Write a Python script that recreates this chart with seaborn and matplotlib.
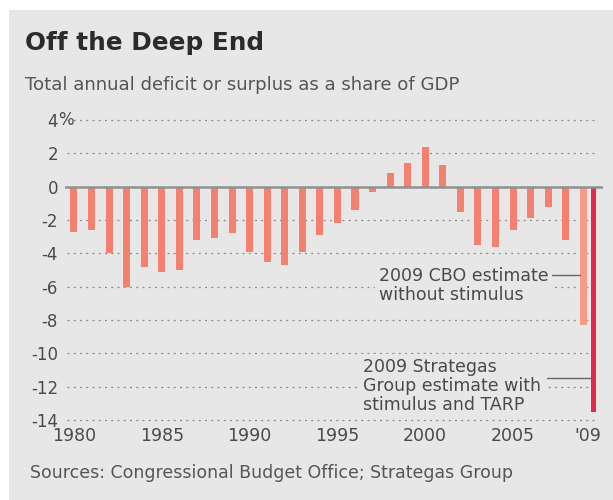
import matplotlib
matplotlib.use("Agg")
import matplotlib.pyplot as plt
import pandas as pd
import seaborn as sns
from matplotlib.patches import Rectangle

# Federal budget balance as a share of GDP (%)
years = list(range(1980, 2009))
balance = [-2.7, -2.6, -4.0, -6.0, -4.8, -5.1, -5.0, -3.2, -3.1, -2.8,
           -3.9, -4.5, -4.7, -3.9, -2.9, -2.2, -1.4, -0.3, 0.8, 1.4,
           2.4, 1.3, -1.5, -3.5, -3.6, -2.6, -1.9, -1.2, -3.2]

# 2009 estimates
year_2009 = 2009
cbo_2009 = -8.3
strategas_2009 = -13.5

y_ticks = [4, 2, 0, -2, -4, -6, -8, -10, -12, -14]
y_tick_labels = ["4", "2", "0", "-2", "-4", "-6", "-8", "-10", "-12", "-14"]
x_ticks = [1980, 1985, 1990, 1995, 2000, 2005]
x_tick_labels = ["1980", "1985", "1990", "1995", "2000", "2005", "'09"]

PANEL = "#e6e7e6"
SALMON = "#f4806f"
LIGHT = "#f69c86"
RED = "#e42a48"
TEXT = "#4a4a4a"
GRID = "#8c8c8c"

sns.set_theme(style="white")
plt.rcParams["font.family"] = ["DejaVu Sans"]

fig = plt.figure(figsize=(6.13, 5.0), dpi=100, facecolor="white")
fig.patches.append(Rectangle((9 / 613, 0), 1 - 9 / 613, 0.98,
                             transform=fig.transFigure, facecolor=PANEL,
                             edgecolor="none", zorder=-10))

ax = fig.add_axes([65 / 613, 80 / 500, 538 / 613, 300 / 500])
ax.set_facecolor("none")

df = pd.DataFrame({"year": years, "balance": balance})
sns.barplot(data=df, x="year", y="balance", native_scale=True, width=0.4,
            color=SALMON, saturation=1, errorbar=None, linewidth=0,
            edgecolor="none", ax=ax, zorder=2)

# 2009: CBO baseline next to the Strategas estimate
ax.bar(year_2009, cbo_2009, width=0.38, color=LIGHT, linewidth=0, zorder=2)
strat_x = year_2009 + 0.57
ax.bar(strat_x, strategas_2009, width=0.28, color=RED, linewidth=0, zorder=2)

ax.set_xlim(1979.49, 2010.12)
ax.set_ylim(-14, 4)

for y in y_ticks:
    if y == 0:
        continue
    ax.axhline(y, xmin=0.003, xmax=0.988, color=GRID, lw=0.9,
               ls=(0, (1.6, 3.4)), zorder=0, clip_on=False)
ax.axhline(0, color="#909090", lw=1.8, zorder=3)

for s in ax.spines.values():
    s.set_visible(False)

ax.set_xlabel("")
ax.set_ylabel("")
ax.set_yticks(y_ticks)
ax.set_yticklabels(y_tick_labels)
ax.set_xticks(x_ticks + [year_2009 + 0.28])
ax.set_xticklabels(x_tick_labels)
ax.tick_params(axis="y", length=0, pad=5, labelsize=12, labelcolor=TEXT)
ax.tick_params(axis="x", length=0, pad=5, labelsize=12.5, labelcolor=TEXT)

# percent sign hanging after the top label
ax.annotate("%", xy=(0, 4), xycoords=("axes fraction", "data"),
            xytext=(-5.2, 0), textcoords="offset points", ha="left",
            va="center", fontsize=12, color=TEXT)

# callouts
ax.text(1997.37, -5.93, "2009 CBO estimate\nwithout stimulus",
        ha="left", va="center", fontsize=12.5, color=TEXT, linespacing=1.05,
        bbox=dict(facecolor=PANEL, edgecolor="none", pad=3), zorder=4)
ax.plot([2007.22, year_2009 - 0.19], [-5.3, -5.3], color="#666666", lw=1,
        zorder=4)
ax.text(1996.44, -11.96, "2009 Strategas\nGroup estimate with\nstimulus and TARP",
        ha="left", va="center", fontsize=12.5, color=TEXT, linespacing=1.05,
        bbox=dict(facecolor=PANEL, edgecolor="none", pad=3), zorder=4)
ax.plot([2006.92, strat_x - 0.14], [-11.5, -11.5], color="#666666", lw=1,
        zorder=4)

fig.text(25 / 613, 1 - 43 / 500, "Off the Deep End", fontsize=17.8,
         fontweight="bold", color="#2b2b2b", ha="left", va="center")
fig.text(25 / 613, 1 - 85 / 500,
         "Total annual deficit or surplus as a share of GDP", fontsize=13.1,
         color="#555555", ha="left", va="center")
fig.text(30 / 613, 1 - 472.7 / 500,
         "Sources: Congressional Budget Office; Strategas Group",
         fontsize=12.5, color="#555555", ha="left", va="center")

fig.savefig("out.png", dpi=100)
